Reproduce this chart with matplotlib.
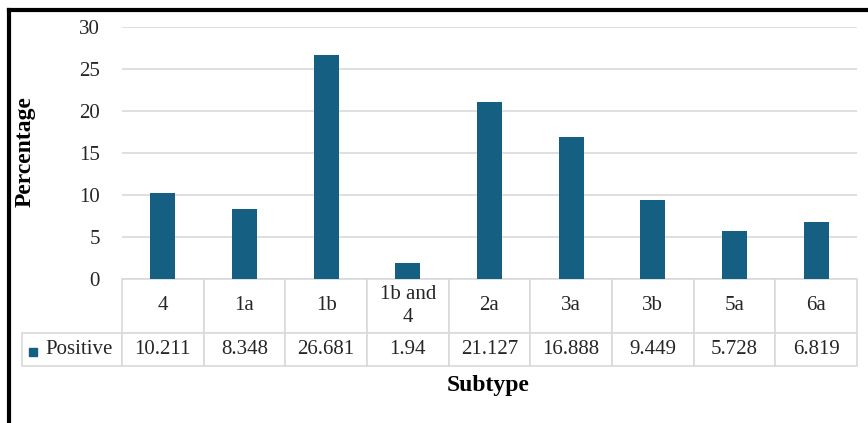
import matplotlib
matplotlib.use("Agg")
import matplotlib.pyplot as plt
from matplotlib.patches import Rectangle
from matplotlib.lines import Line2D
import numpy as np

# data
subtypes = ["4", "1a", "1b", "1b and\n4", "2a", "3a", "3b", "5a", "6a"]
positive = [10.211, 8.348, 26.681, 1.94, 21.127, 16.888, 9.449, 5.728, 6.819]
series_name = "Positive"
y_ticks = [0, 5, 10, 15, 20, 25, 30]

BAR_COLOR = "#156082"
GRID_COLOR = "#D9D9D9"
TEXT_COLOR = "#262626"

plt.rcParams["font.family"] = ["Liberation Serif", "DejaVu Serif"]

W, H = 868, 423
fig = plt.figure(figsize=(W / 100, H / 100), dpi=100)

# plot area (pixel layout from the picture)
left, right, top, zero = 122, 857, 27, 279
ax = fig.add_axes([left / W, 1 - zero / H, (right - left) / W, (zero - top) / H])

x = np.arange(len(subtypes))
ax.bar(x, positive, width=0.31, color=BAR_COLOR, zorder=2)
ax.set_xlim(-0.5, len(subtypes) - 0.5)
ax.set_ylim(0, 30)
ax.set_yticks(y_ticks)
ax.set_xticks([])
ax.yaxis.grid(True, color=GRID_COLOR, lw=1.2)
ax.set_axisbelow(True)
for s in ax.spines.values():
    s.set_visible(False)
ax.tick_params(axis="y", length=0, pad=16, labelsize=15, labelcolor=TEXT_COLOR)

# data table under the bars
ax_h = zero - top
head_h = 54 / ax_h
row_h = 33 / ax_h
col_w = 1 / len(subtypes)
lab_w = 100 / (right - left)

tbl = ax.table(cellText=[[str(v) for v in positive]],
               rowLabels=[series_name],
               colLabels=subtypes,
               cellLoc="center", rowLoc="right",
               bbox=[0, -(head_h + row_h), 1, head_h + row_h])
tbl.auto_set_font_size(False)
# keep the row label column at a fixed width
tbl._autoColumns = [c for c in tbl._autoColumns if c != -1]
for (r, c), cell in tbl.get_celld().items():
    cell.set_edgecolor(GRID_COLOR)
    cell.set_linewidth(1.2)
    cell.set_height(head_h if r == 0 else row_h)
    cell.set_width(lab_w if c == -1 else col_w)
    txt = cell.get_text()
    txt.set_fontsize(15)
    txt.set_color(TEXT_COLOR)
    txt.set_linespacing(1.35)
    if c == -1:
        cell.PAD = 0.09

# legend key square in the row label cell
fig.add_artist(Rectangle((29 / W, 1 - 356 / H), 8 / W, 8 / H,
                         transform=fig.transFigure, color=BAR_COLOR))

fig.text(25 / W, 1 - 152 / H, "Percentage", rotation=90, ha="center", va="center",
         fontsize=17, fontweight="bold", color="black")
fig.text(488 / W, 1 - 385 / H, "Subtype", ha="center", va="center",
         fontsize=17, fontweight="bold", color="black")

# chart border (only top and left visible in the crop)
fig.add_artist(Line2D([9 / W, 1], [1 - 10 / H, 1 - 10 / H], transform=fig.transFigure,
                      color="black", lw=3))
fig.add_artist(Line2D([9 / W, 9 / W], [0, 1 - 10 / H], transform=fig.transFigure,
                      color="black", lw=3))

fig.savefig("out.png", dpi=100, facecolor="white")
